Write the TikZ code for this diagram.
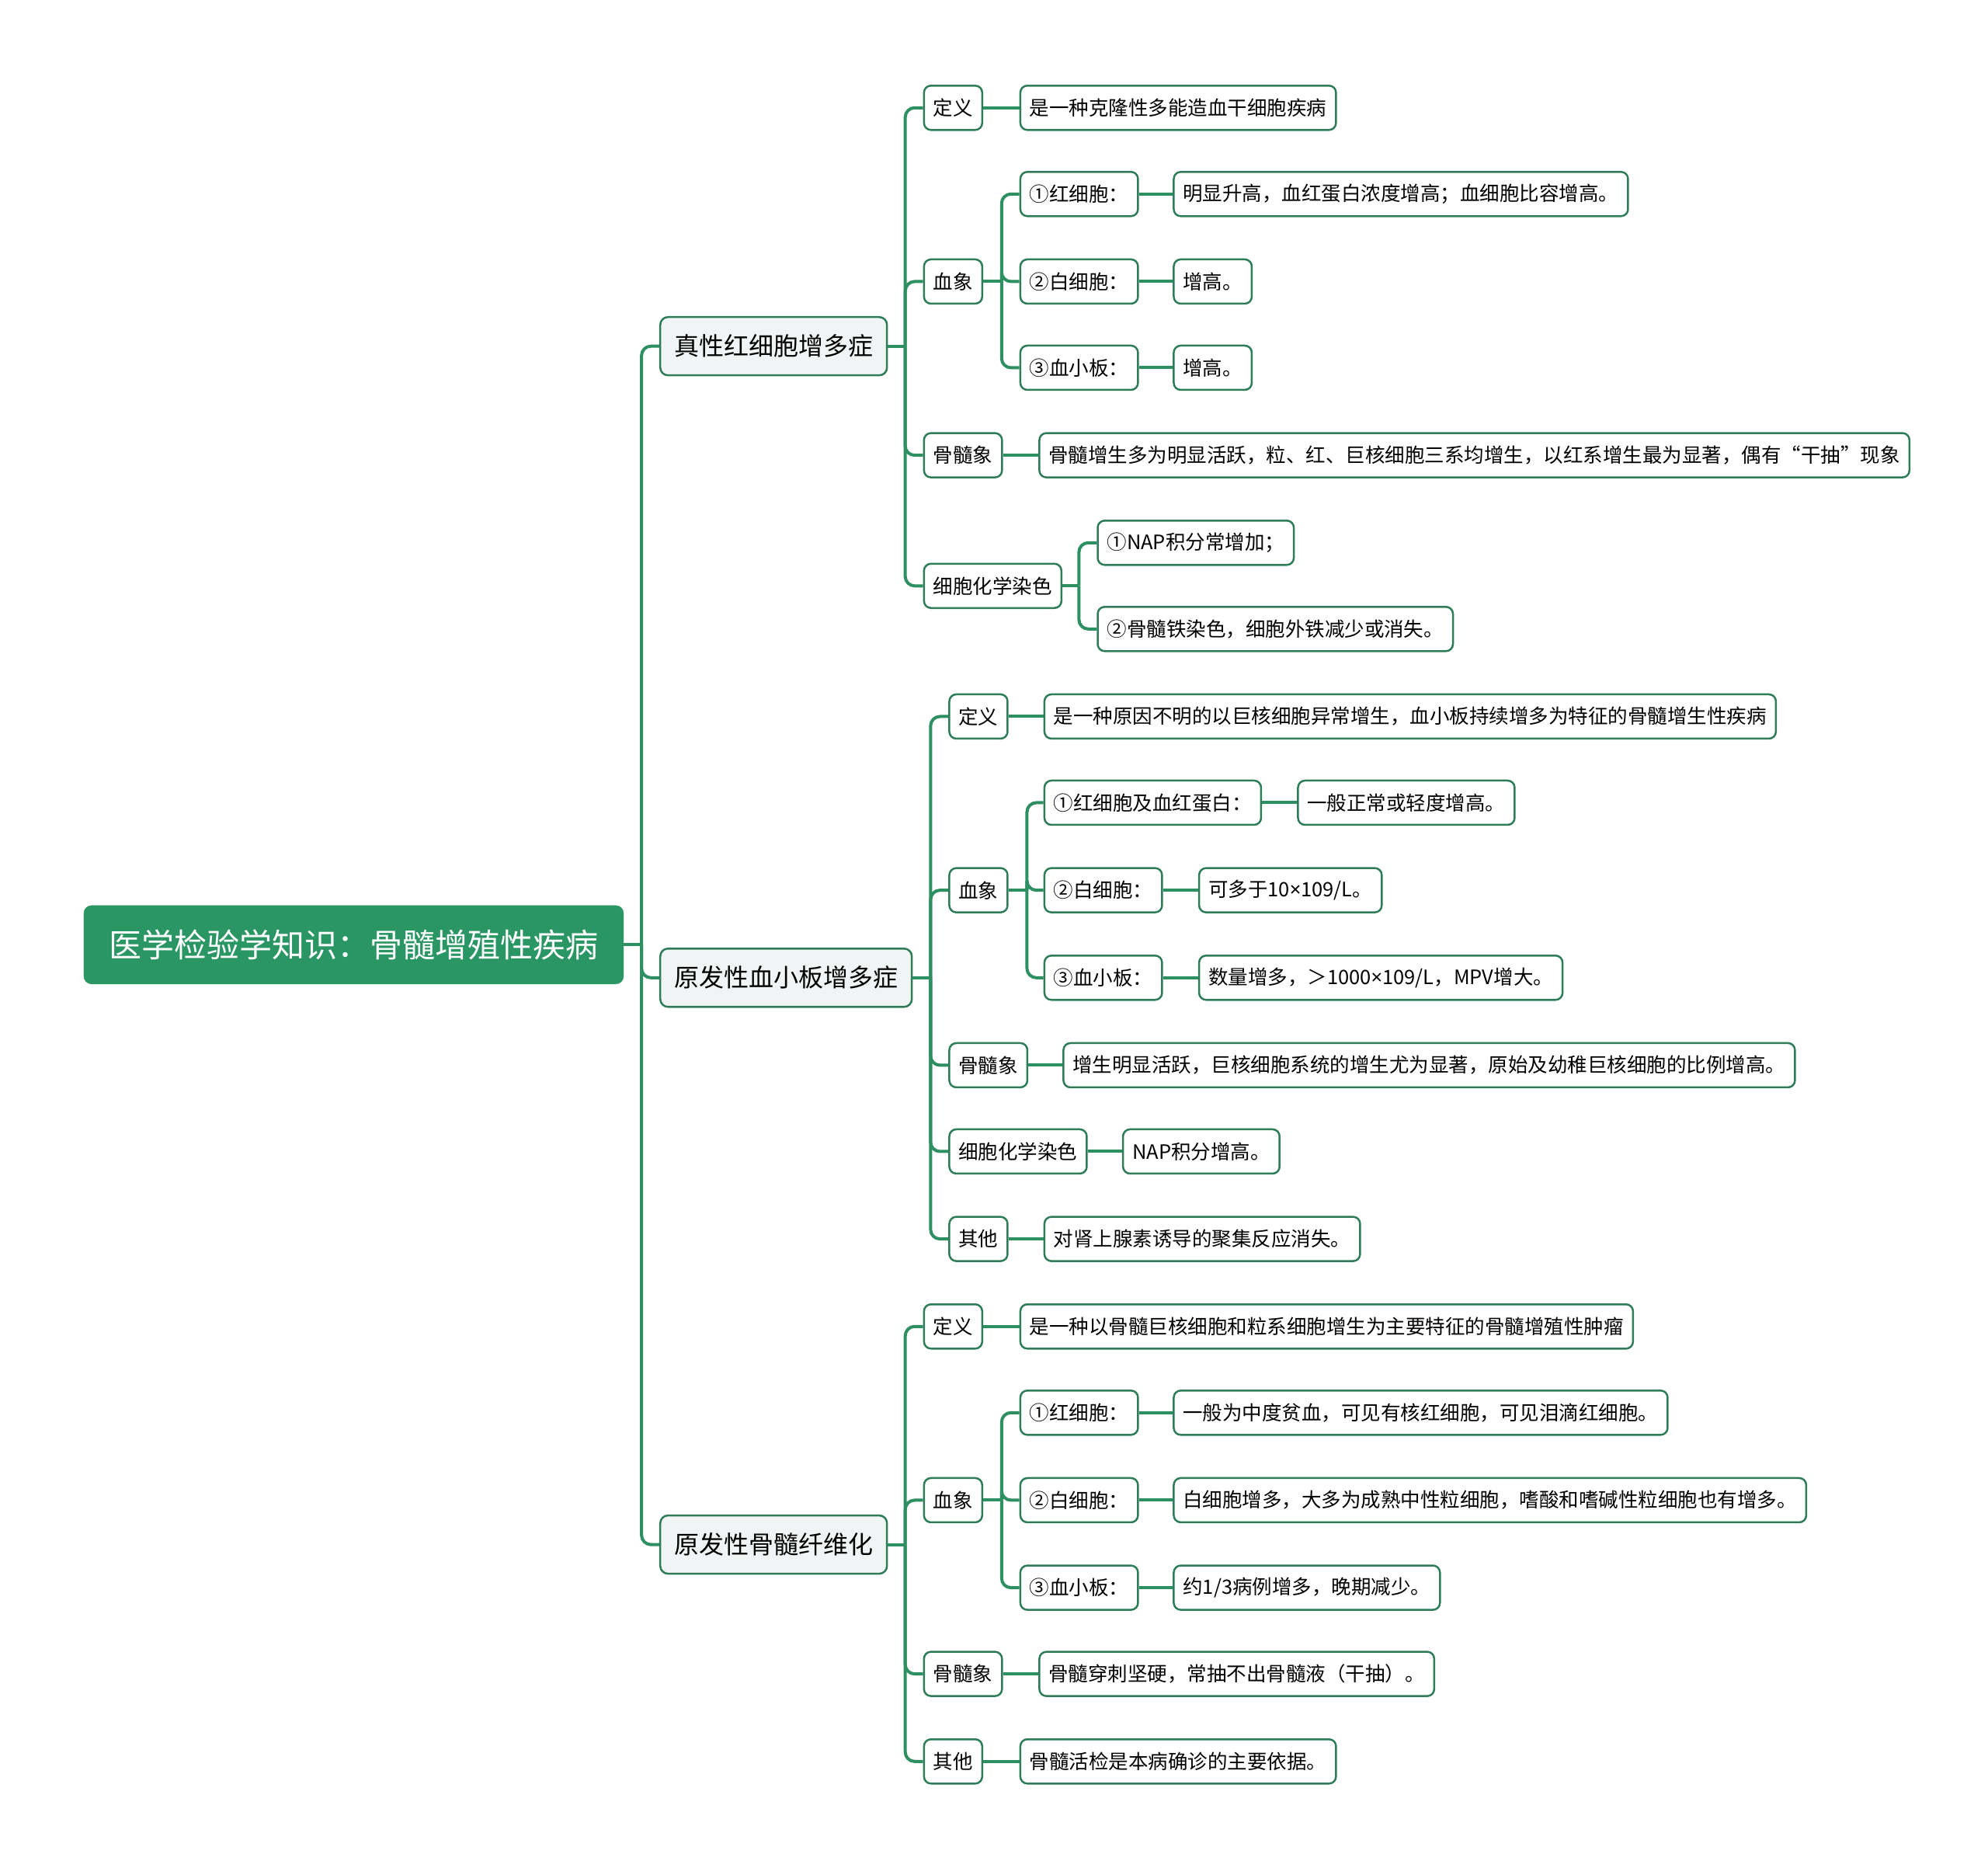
\documentclass[tikz,border=0pt]{standalone}
\usepackage{fontspec}
\setmainfont{Noto Sans CJK SC}
\newfontfamily\latinface{Noto Sans}
\newcommand\tms{{\latinface ×}}
\definecolor{rootc}{HTML}{2A9664}
\definecolor{lc}{HTML}{2E8F62}
\definecolor{bc}{HTML}{2E7D58}
\definecolor{lonefill}{HTML}{F1F4F4}
\tikzset{
  conn/.style={draw=lc, line width=4pt, rounded corners=12pt},
  rootbox/.style={fill=rootc, draw=rootc, rounded corners=10pt, text=white, font=\fontsize{42}{50}\selectfont, inner xsep=24pt, minimum width=695pt, minimum height=101pt, anchor=west},
  mainbox/.style={fill=lonefill, draw=bc, line width=2.5pt, rounded corners=10pt, font=\fontsize{32}{38}\selectfont, inner xsep=18pt, minimum height=75pt, anchor=west},
  subbox/.style={fill=white, draw=bc, line width=2.5pt, rounded corners=9pt, font=\fontsize{25.5}{30}\selectfont, inner xsep=12pt, minimum height=57pt, anchor=west},
}
\newcommand\mmlink[3]{%
  \draw[conn] (#1.east) -- (#2 |- #1.east);
  \foreach \cc in {#3} {\draw[conn] (#2 |- #1.east) |- (\cc.west);}%
}
\begin{document}
\begin{tikzpicture}[x=1.6327pt,y=-1.6327pt]
\useasboundingbox (0,0) rectangle (1568,1473);
\fill[white] (0,0) rectangle (1568,1473);
% junctions
\coordinate (j0) at (506,0);
\coordinate (j1) at (714,0);
\coordinate (j1b) at (790,0);
\coordinate (j1d) at (851,0);
\coordinate (j2) at (734,0);
\coordinate (j2b) at (810,0);
\coordinate (j3) at (714,0);
\coordinate (j3b) at (790,0);

\node[rootbox] (root) at (66,745) {医学检验学知识：骨髓增殖性疾病};
\node[mainbox] (b1) at (520,273) {真性红细胞增多症};
\node[mainbox] (b2) at (520,771) {原发性血小板增多症};
\node[mainbox] (b3) at (520,1218) {原发性骨髓纤维化};

% branch 1
\node[subbox] (b1a) at (728,85) {定义};
\node[subbox] (b1a1) at (804,85) {是一种克隆性多能造血干细胞疾病};
\node[subbox] (b1b) at (728,222) {血象};
\node[subbox] (b1b1) at (804,153) {①红细胞：};
\node[subbox] (b1b1x) at (925,153) {明显升高，血红蛋白浓度增高；血细胞比容增高。};
\node[subbox] (b1b2) at (804,222) {②白细胞：};
\node[subbox] (b1b2x) at (925,222) {增高。};
\node[subbox] (b1b3) at (804,290) {③血小板：};
\node[subbox] (b1b3x) at (925,290) {增高。};
\node[subbox] (b1c) at (728,359) {骨髓象};
\node[subbox] (b1c1) at (819,359) {骨髓增生多为明显活跃，粒、红、巨核细胞三系均增生，以红系增生最为显著，偶有“干抽”现象};
\node[subbox] (b1d) at (728,462) {细胞化学染色};
\node[subbox] (b1d1) at (865,428) {①NAP积分常增加；};
\node[subbox] (b1d2) at (865,496) {②骨髓铁染色，细胞外铁减少或消失。};

% branch 2
\node[subbox] (b2a) at (748,565) {定义};
\node[subbox] (b2a1) at (823,565) {是一种原因不明的以巨核细胞异常增生，血小板持续增多为特征的骨髓增生性疾病};
\node[subbox] (b2b) at (748,702) {血象};
\node[subbox] (b2b1) at (823,633) {①红细胞及血红蛋白：};
\node[subbox] (b2b1x) at (1023,633) {一般正常或轻度增高。};
\node[subbox] (b2b2) at (823,702) {②白细胞：};
\node[subbox] (b2b2x) at (945,702) {可多于10\tms109/L。};
\node[subbox] (b2b3) at (823,771) {③血小板：};
\node[subbox] (b2b3x) at (945,771) {数量增多，＞1000\tms109/L，MPV增大。};
\node[subbox] (b2c) at (748,840) {骨髓象};
\node[subbox] (b2c1) at (838,840) {增生明显活跃，巨核细胞系统的增生尤为显著，原始及幼稚巨核细胞的比例增高。};
\node[subbox] (b2d) at (748,908) {细胞化学染色};
\node[subbox] (b2d1) at (885,908) {NAP积分增高。};
\node[subbox] (b2e) at (748,977) {其他};
\node[subbox] (b2e1) at (823,977) {对肾上腺素诱导的聚集反应消失。};

% branch 3
\node[subbox] (b3a) at (728,1046) {定义};
\node[subbox] (b3a1) at (804,1046) {是一种以骨髓巨核细胞和粒系细胞增生为主要特征的骨髓增殖性肿瘤};
\node[subbox] (b3b) at (728,1183) {血象};
\node[subbox] (b3b1) at (804,1114) {①红细胞：};
\node[subbox] (b3b1x) at (925,1114) {一般为中度贫血，可见有核红细胞，可见泪滴红细胞。};
\node[subbox] (b3b2) at (804,1183) {②白细胞：};
\node[subbox] (b3b2x) at (925,1183) {白细胞增多，大多为成熟中性粒细胞，嗜酸和嗜碱性粒细胞也有增多。};
\node[subbox] (b3b3) at (804,1252) {③血小板：};
\node[subbox] (b3b3x) at (925,1252) {约1/3病例增多，晚期减少。};
\node[subbox] (b3c) at (728,1320) {骨髓象};
\node[subbox] (b3c1) at (819,1320) {骨髓穿刺坚硬，常抽不出骨髓液（干抽）。};
\node[subbox] (b3d) at (728,1389) {其他};
\node[subbox] (b3d1) at (804,1389) {骨髓活检是本病确诊的主要依据。};

% connectors
\mmlink{root}{j0}{b1,b2,b3}
\mmlink{b1}{j1}{b1a,b1b,b1c,b1d}
\mmlink{b1b}{j1b}{b1b1,b1b2,b1b3}
\mmlink{b1d}{j1d}{b1d1,b1d2}
\mmlink{b2}{j2}{b2a,b2b,b2c,b2d,b2e}
\mmlink{b2b}{j2b}{b2b1,b2b2,b2b3}
\mmlink{b3}{j3}{b3a,b3b,b3c,b3d}
\mmlink{b3b}{j3b}{b3b1,b3b2,b3b3}
\foreach \p/\q in {b1a/b1a1,b1b1/b1b1x,b1b2/b1b2x,b1b3/b1b3x,b1c/b1c1,
  b2a/b2a1,b2b1/b2b1x,b2b2/b2b2x,b2b3/b2b3x,b2c/b2c1,b2d/b2d1,b2e/b2e1,
  b3a/b3a1,b3b1/b3b1x,b3b2/b3b2x,b3b3/b3b3x,b3c/b3c1,b3d/b3d1}
  {\draw[conn] (\p.east) -- (\q.west);}
\end{tikzpicture}
\end{document}
